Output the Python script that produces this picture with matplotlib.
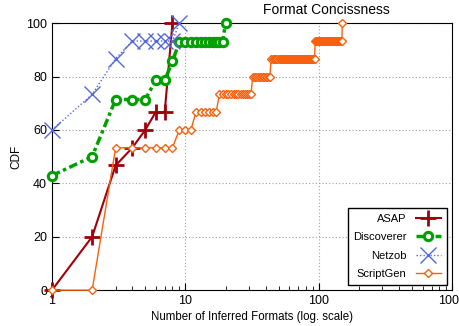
import numpy as np
import matplotlib
matplotlib.use("Agg")
from matplotlib import pyplot as plt

plt.rcParams['font.family'] = ['Liberation Sans', 'DejaVu Sans']

# CDF values (%) at each integer number of inferred formats
asap_x = [1, 2, 3, 4, 5, 6, 7, 8]
asap_y = [0, 20, 46.7, 53.3, 60, 66.7, 66.7, 100]

netzob_x = [1, 2, 3, 4, 5, 6, 7, 8, 9]
netzob_y = [60, 73.3, 86.7, 93.3, 93.3, 93.3, 93.3, 93.3, 100]

# step series: level and the first x where that level starts
disc_levels = [42.9, 50, 71.4, 78.6, 85.7, 92.9, 100]
disc_starts = [1, 2, 3, 6, 8, 9, 20]
disc_end = 20

sg_levels = [0, 53.3, 60, 66.7, 73.3, 80, 86.7, 93.3, 100]
sg_starts = [1, 3, 9, 12, 18, 32, 44, 94, 150]
sg_end = 150


def expand(levels, starts, end):
    bounds = list(starts[1:]) + [end + 1]
    xs, ys = [], []
    for lv, a, b in zip(levels, starts, bounds):
        for v in range(a, b):
            xs.append(v)
            ys.append(lv)
    return xs, ys


disc_x, disc_y = expand(disc_levels, disc_starts, disc_end)
sg_x, sg_y = expand(sg_levels, sg_starts, sg_end)

fig = plt.figure(figsize=(4.6, 3.26), dpi=100)
ax = fig.add_axes([0.113, 0.11, 0.87, 0.819])

ax.plot(asap_x, asap_y, color='#a0000a', lw=1.5, marker='+', ms=12, mew=2,
        label='ASAP', zorder=3, clip_on=False)
ax.plot(disc_x, disc_y, color='#00a000', lw=2.5, ls=(0, (2.5, 1, 1, 1)),
        marker='o', ms=6, mew=2.2, mfc='white', label='Discoverer', zorder=4,
        clip_on=False)
ax.plot(netzob_x, netzob_y, color='#5468dc', lw=1, ls=(0, (1, 1.5)),
        marker='x', ms=12, mew=1, label='Netzob', zorder=5, clip_on=False)
ax.plot(sg_x, sg_y, color='#f86010', lw=1, marker='D', ms=4.5, mew=1,
        mfc='white', label='ScriptGen', zorder=6, clip_on=False)

ax.set_xscale('log')
ax.set_xlim(1, 1000)
ax.set_ylim(0, 100)
ax.set_xticks([1, 10, 100, 1000])
ax.set_xticklabels(['1', '10', '100', '1000'])
ax.set_yticks([0, 20, 40, 60, 80, 100])
ax.tick_params(which='both', direction='in', top=False, right=False, labelsize=9)
ax.tick_params(which='major', length=5)
ax.tick_params(which='minor', length=3)
ax.grid(True, which='major', color='#a0a0a0', ls=(0, (1, 2)), lw=0.8)

fig.text(326 / 460, 1 - 10 / 326, 'Format Concissness', fontsize=10,
         ha='center', va='center')
ax.set_xlabel('Number of Inferred Formats (log. scale)', fontsize=8.3, labelpad=3)
ax.set_ylabel('CDF', fontsize=8.5, labelpad=3)

leg = ax.legend(loc='lower right', markerfirst=False, fontsize=8,
                fancybox=False, edgecolor='black', framealpha=1,
                handlelength=2.3, borderaxespad=0.5, labelspacing=0.75,
                borderpad=0.5)
leg.get_frame().set_linewidth(1)

fig.savefig('out.png', dpi=100)
